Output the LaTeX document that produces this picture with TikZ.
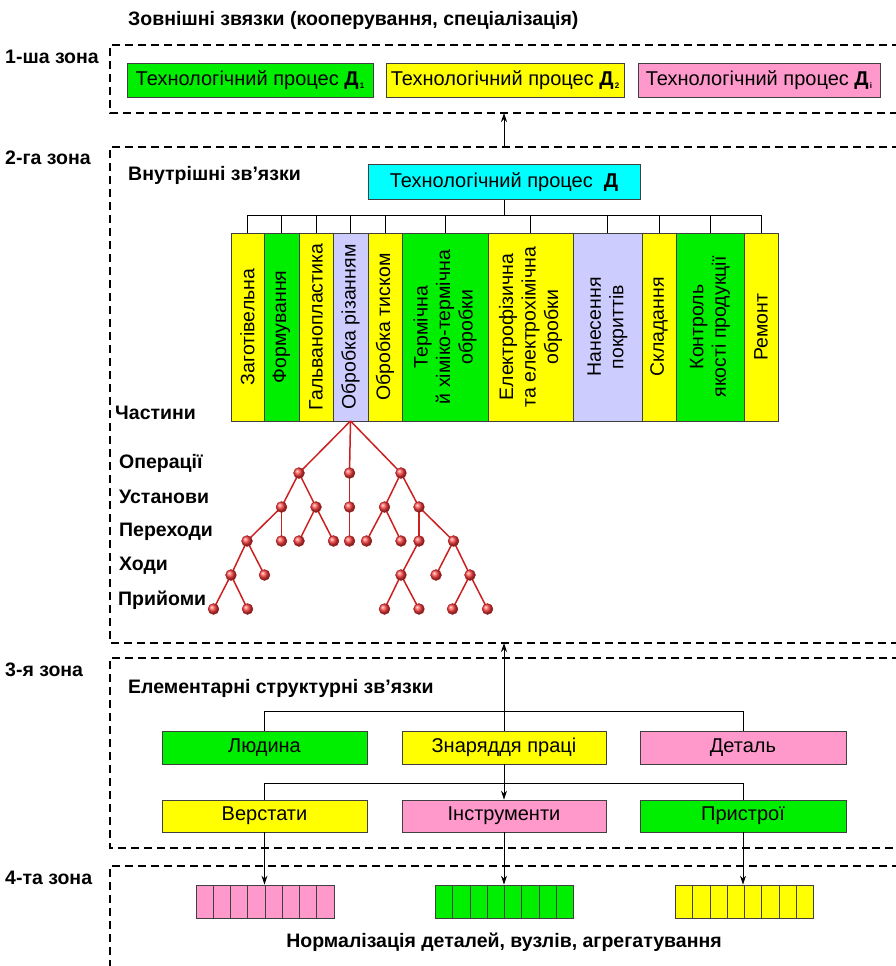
\documentclass[tikz,border=0pt]{standalone}
\usepackage{fontspec}
\setmainfont{Liberation Sans}
\usetikzlibrary{arrows.meta}

\definecolor{cgreen}{HTML}{00EE00}
\definecolor{cyellow}{HTML}{FFFF00}
\definecolor{cpink}{HTML}{FF99CC}
\definecolor{clav}{HTML}{CCCCFF}
\definecolor{ccyan}{HTML}{00FFFF}
\definecolor{treered}{HTML}{CC2020}

\newcommand{\Dsub}[1]{\textbf{Д}\kern1.2pt\raisebox{-0.3ex}{\fontsize{8}{8}\selectfont\bfseries #1}}

\begin{document}
\begin{tikzpicture}[x=1pt,y=-1pt,
  zone/.style={draw, line width=1.2pt, dash pattern=on 8pt off 5pt},
  lab/.style={anchor=west, inner sep=0pt, font=\fontsize{19.5}{22}\selectfont\bfseries},
  proc/.style={draw=black!75, line width=0.8pt, inner sep=0pt, minimum height=34pt,
    font=\fontsize{20}{23}\selectfont},
  vbox/.style={draw=black!75, line width=0.8pt, inner sep=0pt, minimum height=188pt},
  vtext/.style={rotate=90, align=center, inner sep=0pt, font=\fontsize{19.5}{22.5}\selectfont},
  link/.style={draw=black, line width=0.9pt},
  arr/.style={draw=black, line width=0.9pt, -{Stealth[length=9pt,width=6pt]}},
  twig/.style={draw=treered, line width=1.5pt},
  ball/.style={circle, ball color=red!75, draw=treered!80!black, line width=0.3pt,
    minimum size=11pt, inner sep=0pt},
  cellbar/.style={draw=black!75, line width=0.8pt, minimum width=138pt, minimum height=33pt,
    inner sep=0pt,
    path picture={\foreach \k in {1,...,7}{
      \draw[black!75, line width=0.6pt]
        ([xshift=\k*17.25pt]path picture bounding box.north west) --
        ([xshift=\k*17.25pt]path picture bounding box.south west);}}}
]
\useasboundingbox (0,0) rectangle (895,966);

% ---------- dashed zones ----------
\draw[zone] (900,45) -- (110,45) -- (110,113) -- (900,113);
\draw[zone] (900,147) -- (110,147) -- (110,643) -- (900,643);
\draw[zone] (900,658) -- (110,658) -- (110,848) -- (900,848);
\draw[zone] (900,866) -- (110,866) -- (110,972);

% ---------- headings ----------
\node[lab] (title) at (128,20) {Зовнішні звязки (кооперування, спеціалізація)};
\node[lab] (zn1) at (5,57) {1-ша зона};
\node[lab] (zn2) at (5,158) {2-га зона};
\node[lab] (zn3) at (5,670) {3-я зона};
\node[lab] (zn4) at (5,878) {4-та зона};
\node[lab] (inner) at (128,175) {Внутрішні зв’язки};
\node[lab] (elem) at (128,688) {Елементарні структурні зв’язки};
\node[lab, anchor=center] (norm) at (504,942) {Нормалізація деталей, вузлів, агрегатування};

% ---------- zone 1 ----------
\node[proc, fill=cgreen, minimum width=246pt] (d1) at (250,80) {Технологічний процес \Dsub{1}};
\node[proc, fill=cyellow, minimum width=238pt] (d2) at (505,80) {Технологічний процес \Dsub{2}};
\node[proc, fill=cpink, minimum width=242pt] (di) at (759,80) {Технологічний процес \Dsub{i}};

% ---------- zone 2 ----------
\coordinate (z1b) at (504,113);
\coordinate (z2t) at (504,147);
\draw[arr] (z2t) -- (z1b);

\node[proc, fill=ccyan, minimum width=272pt, minimum height=35pt] (dd) at (504,182)
  {Технологічний процес \ \textbf{Д}};

\foreach \n/\cx/\w/\col/\txt in {
  1/247.5/33/cyellow/Заготівельна,
  2/281.5/35/cgreen/Формування,
  3/316/34/cyellow/Гальванопластика,
  4/350.5/35/clav/Обробка різанням,
  5/385/34/cyellow/Обробка тиском,
  6/445/86/cgreen/{Термічна\\й хіміко-термічна\\обробки},
  7/530.5/85/cyellow/{Електрофізична\\та електрохімічна\\обробки},
  8/607.5/69/clav/{Нанесення\\покриттів},
  9/659/34/cyellow/Складання,
  10/710/68/cgreen/{Контроль\\якості продукції},
  11/761/34/cyellow/Ремонт}{
  \node[vbox, fill=\col, minimum width=\w pt] (v\n) at (\cx,327) {};
  \node[vtext] (vt\n) at (v\n) {\txt};
}
\draw[link] (dd.south) -- (504,215);
\draw[link] (v1.north) -- (247.5,215) -- (761,215) -- (v11.north);
\foreach \n in {2,...,10}{\draw[link] (v\n.north) -- (v\n.north |- 0,215);}

\node[lab] (lparts) at (115,413) {Частини};
\node[lab] (lops) at (119,463) {Операції};
\node[lab] (lset) at (119,497) {Установи};
\node[lab] (lpass) at (119,532) {Переходи};
\node[lab] (lmove) at (119,566) {Ходи};
\node[lab] (ltech) at (118,600) {Прийоми};

% operation tree
\coordinate (root) at (350.5,421);
\coordinate (o1) at (299,473);   \coordinate (o2) at (349.5,473); \coordinate (o3) at (401,473);
\coordinate (u1) at (281.5,507); \coordinate (u2) at (316,507);   \coordinate (u3) at (349.5,507);
\coordinate (u4) at (384.5,507); \coordinate (u5) at (419,507);
\coordinate (p1) at (247,541);   \coordinate (p2) at (281.5,541); \coordinate (p3) at (299,541);
\coordinate (p4) at (333.5,541); \coordinate (p5) at (349.5,541); \coordinate (p6) at (366.5,541);
\coordinate (p7) at (401,541);   \coordinate (p8) at (419,541);   \coordinate (p9) at (453.5,541);
\coordinate (h1) at (231,575);   \coordinate (h2) at (264.5,575); \coordinate (h3) at (401,575);
\coordinate (h4) at (436,575);   \coordinate (h5) at (470,575);
\coordinate (r1) at (213.5,609); \coordinate (r2) at (247.5,609); \coordinate (r3) at (384.5,609);
\coordinate (r4) at (419,609);   \coordinate (r5) at (452.5,609); \coordinate (r6) at (487.5,609);

\foreach \a/\b in {root/o1,root/o2,root/o3,
  o1/u1,o1/u2,o2/u3,o3/u4,o3/u5,
  u1/p1,u1/p2,u2/p3,u2/p4,u3/p5,u4/p6,u4/p7,u5/p8,u5/p9,
  p1/h1,p1/h2,p8/h3,p9/h4,p9/h5,
  h1/r1,h1/r2,h3/r3,h3/r4,h5/r5,h5/r6}{
  \draw[twig] (\a) -- (\b);
}
\foreach \c in {o1,o2,o3,u1,u2,u3,u4,u5,p1,p2,p3,p4,p5,p6,p7,p8,p9,h1,h2,h3,h4,h5,r1,r2,r3,r4,r5,r6}{
  \node[ball] (b\c) at (\c) {};
}

% ---------- zone 3 ----------
\node[proc, fill=cgreen, minimum width=205pt, minimum height=33pt] (man) at (264.5,747.5) {Людина};
\node[proc, fill=cyellow, minimum width=204pt, minimum height=33pt] (tools) at (504,747.5) {Знаряддя праці};
\node[proc, fill=cpink, minimum width=206pt, minimum height=33pt] (part) at (743,747.5) {Деталь};

\node[proc, fill=cyellow, minimum width=205pt, minimum height=32pt] (mach) at (264.5,816) {Верстати};
\node[proc, fill=cpink, minimum width=204pt, minimum height=32pt] (instr) at (504,816) {Інструменти};
\node[proc, fill=cgreen, minimum width=206pt, minimum height=32pt] (fixt) at (743,816) {Пристрої};

\coordinate (z2b) at (504,643);
\draw[link] (man.north) -- (264.5,711) -- (743,711) -- (part.north);
\draw[arr] (tools.north) -- (z2b);
\draw[link] (mach.north) -- (264.5,783) -- (743,783) -- (fixt.north);
\draw[arr] (tools.south) -- (instr.north);

% ---------- zone 4 ----------
\node[cellbar, fill=cpink] (c1) at (265,901.5) {};
\node[cellbar, fill=cgreen] (c2) at (504.5,901.5) {};
\node[cellbar, fill=cyellow] (c3) at (744.5,901.5) {};
\draw[arr] (mach.south) -- (mach.south |- c1.north);
\draw[arr] (instr.south) -- (instr.south |- c2.north);
\draw[arr] (fixt.south) -- (fixt.south |- c3.north);

\end{tikzpicture}
\end{document}
